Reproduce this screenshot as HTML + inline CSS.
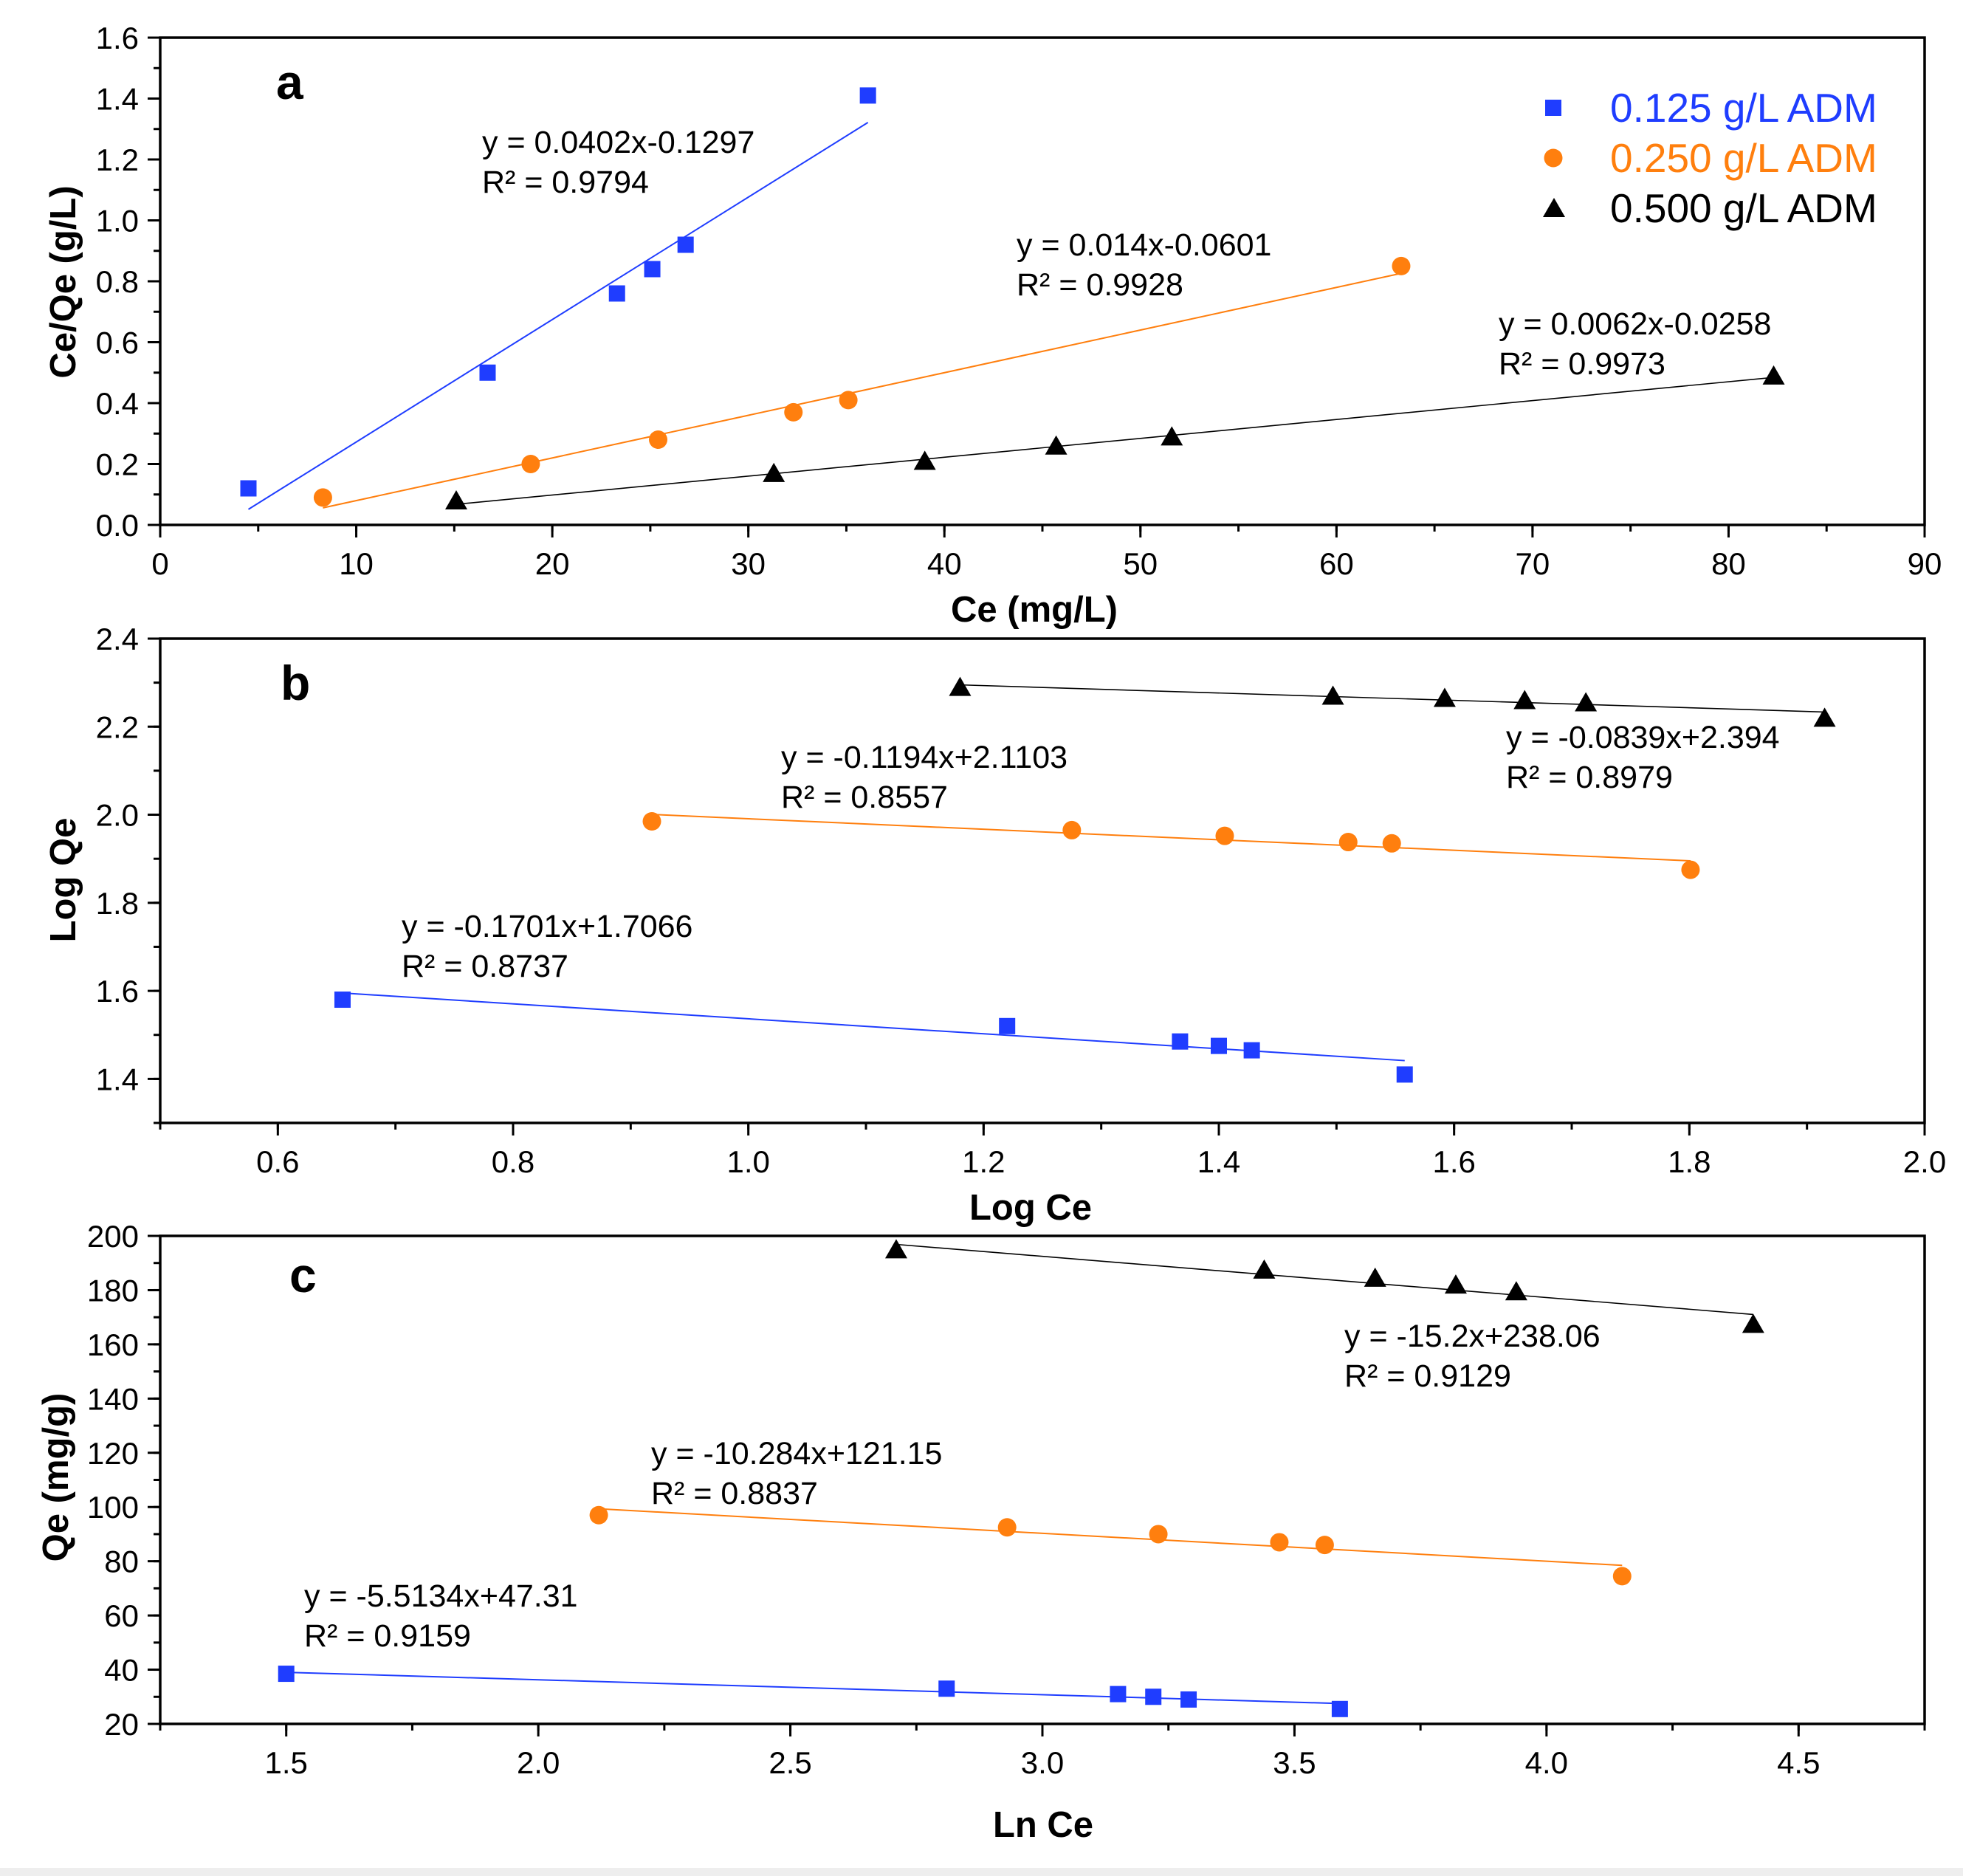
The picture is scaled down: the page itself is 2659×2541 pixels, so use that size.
<!DOCTYPE html>
<html><head><meta charset="utf-8"><style>
html,body{margin:0;padding:0;background:#fff;}
svg{display:block;font-family:"Liberation Sans",Arial,sans-serif;}
</style></head><body>
<svg id="chart" width="2659" height="2541" viewBox="0 0 2659 2541" xmlns="http://www.w3.org/2000/svg">
<rect x="0" y="0" width="2659" height="2541" fill="#fff"/>
<rect x="0" y="2530" width="2659" height="11" fill="#eee"/>
</svg>
<script>
// Panel a data (Langmuir)
const aBlueX=[4.5,16.7,23.3,25.1,26.8,36.1];
const aBlueY=[0.12,0.50,0.76,0.84,0.92,1.41];
const aOrX=[8.3,18.9,25.4,32.3,35.1,63.3];
const aOrY=[0.09,0.20,0.28,0.37,0.41,0.85];
const aBkX=[15.1,31.3,39.0,45.7,51.6,82.3];
const aBkY=[0.08,0.17,0.21,0.26,0.29,0.49];
const aFits=[[0.0402,-0.1297],[0.014,-0.0601],[0.0062,-0.0258]];
// Panel b data (Freundlich)
const bBlueX=[0.655,1.22,1.367,1.40,1.428,1.558];
const bBlueY=[1.58,1.52,1.485,1.475,1.465,1.41];
const bOrX=[0.918,1.275,1.405,1.51,1.547,1.801];
const bOrY=[1.985,1.965,1.952,1.938,1.935,1.875];
const bBkX=[1.18,1.497,1.592,1.66,1.712,1.915];
const bBkY=[2.29,2.27,2.265,2.26,2.255,2.22];
const bFits=[[-0.1701,1.7066],[-0.1194,2.1103],[-0.0839,2.394]];
// Panel c data (Temkin)
const cBlueX=[1.50,2.81,3.15,3.22,3.29,3.59];
const cBlueY=[38.5,33,31,30,29,25.5];
const cOrX=[2.12,2.93,3.23,3.47,3.56,4.15];
const cOrY=[97,92.5,90,87,86,74.5];
const cBkX=[2.71,3.44,3.66,3.82,3.94,4.41];
const cBkY=[195,187.5,184.5,182,179.5,167.5];
const cFits=[[-5.5134,47.31],[-10.284,121.15],[-15.2,238.06]];
const aXTicks=[0,10,20,30,40,50,60,70,80,90];
const aYTicks=[0.0,0.2,0.4,0.6,0.8,1.0,1.2,1.4,1.6];
const bXTicks=[0.6,0.8,1.0,1.2,1.4,1.6,1.8,2.0];
const bYTicks=[1.4,1.6,1.8,2.0,2.2,2.4];
const cXTicks=[1.5,2.0,2.5,3.0,3.5,4.0,4.5];
const cYTicks=[20,40,60,80,100,120,140,160,180,200];

const NS="http://www.w3.org/2000/svg";
const svg=document.getElementById('chart');
const BLUE="#1f3dff",OR="#ff7f0e",BK="#000";
function el(tag,attrs,parent,text){const e=document.createElementNS(NS,tag);for(const k in attrs)e.setAttribute(k,attrs[k]);if(text!==undefined)e.textContent=text;(parent||svg).appendChild(e);return e;}
const L=217,R=2607;

function panel(cfg){
  const g=el('g',{});
  
  
  const sx=v=>L+(v-cfg.x0)/(cfg.x1-cfg.x0)*(R-L);
  const sy=v=>cfg.B-(v-cfg.y0)/(cfg.y1-cfg.y0)*(cfg.B-cfg.T);
  const fr=el('rect',{x:L,y:cfg.T,width:R-L,height:cfg.B-cfg.T,fill:'none',stroke:'#000','stroke-width':3.5},g);
  
  
  for(let v=cfg.x0;v<=cfg.x1+1e-9;v+=cfg.xm){el('line',{x1:sx(v),x2:sx(v),y1:cfg.B,y2:cfg.B+9,stroke:'#000','stroke-width':3},g);}
  for(let v=cfg.y0;v<=cfg.y1+1e-9;v+=cfg.ym){el('line',{x1:L,x2:L-9,y1:sy(v),y2:sy(v),stroke:'#000','stroke-width':3},g);}
  cfg.xt.forEach(v=>{
    el('line',{x1:sx(v),x2:sx(v),y1:cfg.B,y2:cfg.B+17,stroke:'#000','stroke-width':3},g);
    const t=el('text',{x:sx(v),y:cfg.B+67,'font-size':42,'text-anchor':'middle'},g,v.toFixed(cfg.xd));
    
    
  });
  cfg.yt.forEach(v=>{
    el('line',{x1:L,x2:L-17,y1:sy(v),y2:sy(v),stroke:'#000','stroke-width':3},g);
    const t=el('text',{x:188,y:sy(v)+15,'font-size':42,'text-anchor':'end'},g,v.toFixed(cfg.yd));
    
    
  });
  const xt=el('text',{x:cfg.xtx,y:cfg.xty,'font-size':49,'font-weight':'bold','text-anchor':'middle'},g,cfg.xtitle);
  
  
  const yt=el('text',{x:0,y:0,'font-size':49,'font-weight':'bold','text-anchor':'middle',transform:`translate(${cfg.ytx},${cfg.yty}) rotate(-90)`},g,cfg.ytitle);
  
  
  const pl=el('text',{x:cfg.lx,y:cfg.ly,'font-size':66,'font-weight':'bold'},g,cfg.letter);
  
  
  const cols=[BLUE,OR,BK],shapes=['sq','ci','tr'],names=['0125','0250','0500'];
  cfg.series.forEach((s,i)=>{
    const [m,b]=cfg.fits[i];
    const xa=Math.min(...s[0]),xb=Math.max(...s[0]);
    const ln=el('line',{x1:sx(xa),y1:sy(m*xa+b),x2:sx(xb),y2:sy(m*xb+b),stroke:cols[i],'stroke-width':i==2?1.6:2},g);
    
    
    s[0].forEach((x,j)=>{
      const y=s[1][j];const px=sx(x),py=sy(y);let mk;
      if(shapes[i]=='sq')mk=el('rect',{x:px-11,y:py-11,width:22,height:22,fill:cols[i]},g);
      else if(shapes[i]=='ci')mk=el('circle',{cx:px,cy:py,r:12.5,fill:cols[i]},g);
      else mk=el('polygon',{points:`${px},${py-14} ${px+15},${py+12} ${px-15},${py+12}`,fill:cols[i]},g);
      
      
    });
  });
  cfg.eqs.forEach(e=>{
    const t1=el('text',{x:e[0],y:e[1],'font-size':43},g,e[2]);
    
    
    const t2=el('text',{x:e[0],y:e[1]+54,'font-size':43},g,e[3]);
    
    
  });
}

panel({name:'panel-a',x0:0,x1:90,y0:0,y1:1.6,T:51,B:711,xm:5,ym:0.1,xt:aXTicks,yt:aYTicks,xd:0,yd:1,
  xtitle:'Ce (mg/L)',xtx:1401,xty:842,ytitle:'Ce/Qe (g/L)',ytx:102,yty:382,letter:'a',lx:374,ly:134,
  series:[[aBlueX,aBlueY],[aOrX,aOrY],[aBkX,aBkY]],fits:aFits,
  eqs:[[653,207,'y = 0.0402x-0.1297','R² = 0.9794'],[1377,346,'y = 0.014x-0.0601','R² = 0.9928'],[2030,453,'y = 0.0062x-0.0258','R² = 0.9973']]});
panel({name:'panel-b',x0:0.5,x1:2.0,y0:1.3,y1:2.4,T:865,B:1521,xm:0.1,ym:0.1,xt:bXTicks,yt:bYTicks,xd:1,yd:1,
  xtitle:'Log Ce',xtx:1396,xty:1652,ytitle:'Log Qe',ytx:102,yty:1192,letter:'b',lx:380,ly:948,
  series:[[bBlueX,bBlueY],[bOrX,bOrY],[bBkX,bBkY]],fits:bFits,
  eqs:[[544,1269,'y = -0.1701x+1.7066','R² = 0.8737'],[1058,1040,'y = -0.1194x+2.1103','R² = 0.8557'],[2040,1013,'y = -0.0839x+2.394','R² = 0.8979']]});
panel({name:'panel-c',x0:1.25,x1:4.75,y0:20,y1:200,T:1674,B:2335,xm:0.25,ym:10,xt:cXTicks,yt:cYTicks,xd:1,yd:0,
  xtitle:'Ln Ce',xtx:1413,xty:2488,ytitle:'Qe (mg/g)',ytx:92,yty:2001,letter:'c',lx:392,ly:1750,
  series:[[cBlueX,cBlueY],[cOrX,cOrY],[cBkX,cBkY]],fits:cFits,
  eqs:[[412,2176,'y = -5.5134x+47.31','R² = 0.9159'],[882,1983,'y = -10.284x+121.15','R² = 0.8837'],[1821,1824,'y = -15.2x+238.06','R² = 0.9129']]});

const lg=el('g',{});


const legLabels=['0.125 g/L ADM','0.250 g/L ADM','0.500 g/L ADM'];
const legCols=[BLUE,OR,BK];
const legY=[146,214,282];
legLabels.forEach((s,i)=>{
  const y=legY[i];let mk;
  if(i==0)mk=el('rect',{x:2093,y:y-11,width:22,height:22,fill:legCols[i]},lg);
  else if(i==1)mk=el('circle',{cx:2104,cy:y,r:12.5,fill:legCols[i]},lg);
  else mk=el('polygon',{points:`2105,${y-14} 2120,${y+12} 2090,${y+12}`,fill:legCols[i]},lg);
  
  
  const t=el('text',{x:2181,y:y+19,'font-size':55,fill:legCols[i]},lg,s);
  
  
});
</script>
</body></html>
